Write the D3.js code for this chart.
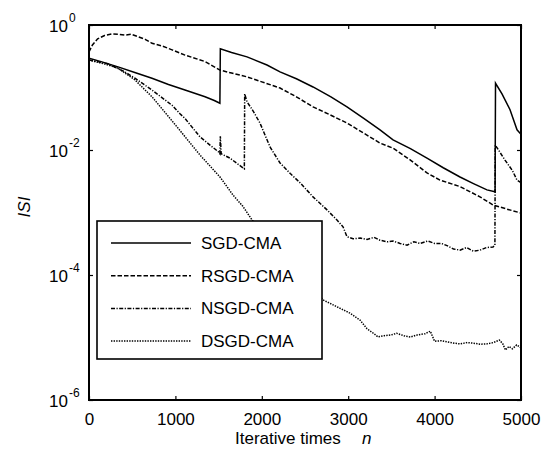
<!DOCTYPE html>
<html>
<head>
<meta charset="utf-8">
<script src="https://cdn.jsdelivr.net/npm/d3@7"></script>
<style>
  html, body { margin: 0; padding: 0; background: #fff; }
  svg text { font-family: "Liberation Sans", Arial, sans-serif; fill: #000; }
</style>
</head>
<body>
<div id="chart"></div>
<script>
// series: [iteration n, ISI]
const seriesNames = ['SGD-CMA', 'RSGD-CMA', 'NSGD-CMA', 'DSGD-CMA'];

const sgdData = [
  [0, 0.295], [150, 0.257], [336, 0.214], [530, 0.174], [729, 0.141], [920, 0.112],
  [1111, 0.091], [1343, 0.071], [1450, 0.062], [1515, 0.056], [1520, 0.417],
  [1650, 0.363], [1829, 0.309], [2060, 0.229], [2211, 0.178], [2400, 0.138],
  [2593, 0.102], [2800, 0.071], [2986, 0.049], [3180, 0.032], [3368, 0.021],
  [3519, 0.0145], [3720, 0.0105], [3912, 0.0074], [4100, 0.0052], [4294, 0.0037],
  [4450, 0.0029], [4606, 0.0023], [4700, 0.00214], [4705, 0.117], [4780, 0.079],
  [4873, 0.044], [4954, 0.021], [5000, 0.0178]
];

const rsgdData = [
  [0, 0.37], [40, 0.48], [100, 0.60], [180, 0.68], [266, 0.72], [340, 0.71],
  [417, 0.69], [490, 0.71], [567, 0.65], [650, 0.59], [729, 0.51], [850, 0.46],
  [961, 0.40], [1111, 0.33], [1343, 0.26], [1516, 0.19], [1650, 0.17], [1829, 0.148],
  [2000, 0.123], [2211, 0.098], [2400, 0.071], [2593, 0.049], [2800, 0.036],
  [2986, 0.027], [3180, 0.0186], [3368, 0.0129], [3519, 0.0107], [3720, 0.0069],
  [3912, 0.0043], [4062, 0.0033], [4294, 0.0026], [4525, 0.00178], [4676, 0.00132],
  [4850, 0.00112], [5000, 0.00098]
];

const nsgdData = [
  [0, 0.275], [220, 0.24], [400, 0.182], [532, 0.141], [729, 0.091], [961, 0.052],
  [1053, 0.038], [1111, 0.032], [1285, 0.0162], [1400, 0.012], [1500, 0.0093],
  [1515, 0.0087], [1520, 0.0166], [1530, 0.0087], [1632, 0.0074], [1720, 0.0060],
  [1798, 0.0050], [1802, 0.079], [1829, 0.059], [1900, 0.042], [1979, 0.027],
  [2095, 0.0112], [2211, 0.0062], [2330, 0.0042], [2442, 0.0030], [2593, 0.00178],
  [2755, 0.0011], [2870, 7.6e-4], [2940, 5.9e-4], [2986, 4.1e-4], [3056, 3.8e-4],
  [3140, 3.9e-4], [3218, 3.7e-4], [3300, 4.0e-4], [3368, 3.6e-4], [3450, 3.4e-4],
  [3519, 3.5e-4], [3600, 3.2e-4], [3681, 3.0e-4], [3760, 3.4e-4], [3831, 3.2e-4],
  [3920, 3.5e-4], [4000, 3.2e-4], [4080, 3.2e-4], [4144, 2.95e-4], [4220, 2.6e-4],
  [4294, 2.5e-4], [4370, 2.75e-4], [4450, 2.4e-4], [4525, 2.5e-4], [4600, 2.75e-4],
  [4676, 2.8e-4], [4698, 3.0e-4], [4702, 0.012], [4815, 0.0069], [4900, 0.0047],
  [4954, 0.0033], [5000, 0.0030]
];

const dsgdData = [
  [0, 0.275], [200, 0.234], [336, 0.204], [532, 0.132], [729, 0.071], [914, 0.035],
  [1053, 0.0205], [1285, 0.0083], [1516, 0.0037], [1667, 0.0019], [1780, 0.00126],
  [1887, 7.6e-4], [2000, 5.0e-4], [2200, 2.5e-4], [2400, 1.2e-4], [2550, 7.1e-5],
  [2708, 4.0e-5], [2870, 3.1e-5], [3021, 2.45e-5], [3137, 1.9e-5], [3218, 1.38e-5],
  [3299, 1.15e-5], [3345, 1.02e-5], [3420, 1.07e-5], [3500, 1.1e-5], [3560, 1.17e-5],
  [3600, 1.12e-5], [3660, 1.05e-5], [3720, 1.02e-5], [3800, 1.1e-5], [3890, 1.15e-5],
  [3950, 1.26e-5], [4000, 8.7e-6], [4080, 8.9e-6], [4150, 8.5e-6], [4230, 8.1e-6],
  [4300, 7.9e-6], [4380, 8.3e-6], [4450, 8.1e-6], [4530, 7.8e-6], [4600, 7.9e-6],
  [4680, 8.3e-6], [4750, 9.1e-6], [4790, 7.9e-6], [4820, 6.3e-6], [4860, 7.2e-6],
  [4900, 6.6e-6], [4950, 7.6e-6], [5000, 6.8e-6]
];

const xTicks = [0, 1000, 2000, 3000, 4000, 5000];
const yTickExps = [0, -2, -4, -6];

document.addEventListener('DOMContentLoaded', () => {
  const W = 549, H = 455;
  const m = { left: 89, top: 25, right: 521, bottom: 400 };

  const svg = d3.select('#chart').append('svg')
    .attr('width', W).attr('height', H);

  const x = d3.scaleLinear().domain([0, 5000]).range([m.left, m.right]);
  const y = d3.scaleLog().domain([1e-6, 1]).range([m.bottom, m.top]);
  const yTicks = yTickExps.map(e => Math.pow(10, e));

  svg.append('clipPath').attr('id', 'plot-clip')
    .append('rect')
    .attr('x', m.left).attr('y', m.top)
    .attr('width', m.right - m.left).attr('height', m.bottom - m.top);

  // curves
  const styles = [
    { data: sgdData, dash: null },
    { data: rsgdData, dash: '4.5,2' },
    { data: nsgdData, dash: '4,1.5,1.2,1.5' },
    { data: dsgdData, dash: '1.4,1.2' }
  ];

  const line = d3.line().x(d => x(d[0])).y(d => y(d[1]));

  const curves = svg.append('g').attr('clip-path', 'url(#plot-clip)');
  styles.forEach(s => {
    curves.append('path')
      .datum(s.data)
      .attr('d', line)
      .attr('fill', 'none')
      .attr('stroke', '#000')
      .attr('stroke-width', 1.5)
      .attr('stroke-dasharray', s.dash);
  });

  // inward ticks on all four sides
  const tickStyle = g => {
    g.select('.domain').remove();
    g.selectAll('.tick line').attr('stroke', '#000').attr('stroke-width', 1.2);
  };

  svg.append('g').attr('transform', `translate(0,${m.bottom})`)
    .call(d3.axisBottom(x).tickValues(xTicks).tickFormat(d3.format('d'))
      .tickSizeInner(-4).tickSizeOuter(0))
    .call(tickStyle)
    .call(g => g.selectAll('.tick text')
      .attr('font-size', 17)
      .attr('font-family', '"Liberation Sans", Arial, sans-serif')
      .attr('y', 25).attr('dy', 0));

  svg.append('g').attr('transform', `translate(0,${m.top})`)
    .call(d3.axisTop(x).tickValues(xTicks).tickSizeInner(-4).tickSizeOuter(0).tickFormat(''))
    .call(tickStyle);

  svg.append('g').attr('transform', `translate(${m.left},0)`)
    .call(d3.axisLeft(y).tickValues(yTicks).tickSizeInner(-4).tickSizeOuter(0).tickFormat(''))
    .call(tickStyle);

  svg.append('g').attr('transform', `translate(${m.right},0)`)
    .call(d3.axisRight(y).tickValues(yTicks).tickSizeInner(-4).tickSizeOuter(0).tickFormat(''))
    .call(tickStyle);

  // y tick labels as 10 with superscript exponent
  const yLab = svg.append('g').selectAll('g').data(yTickExps).enter().append('g');
  yLab.append('text')
    .attr('x', 68).attr('y', e => y(Math.pow(10, e)) + 7)
    .attr('text-anchor', 'end').attr('font-size', 17)
    .text('10');
  yLab.append('text')
    .attr('x', 69).attr('y', e => y(Math.pow(10, e)) - 3)
    .attr('font-size', 12)
    .text(e => e === 0 ? '0' : '-' + Math.abs(e));

  // frame
  svg.append('rect')
    .attr('x', m.left).attr('y', m.top)
    .attr('width', m.right - m.left).attr('height', m.bottom - m.top)
    .attr('fill', 'none').attr('stroke', '#000').attr('stroke-width', 2);

  // axis labels
  const xl = svg.append('text').attr('x', 235).attr('y', 444).attr('font-size', 17);
  xl.append('tspan').text('Iterative times');
  xl.append('tspan').attr('x', 362).attr('font-style', 'italic').text('n');

  svg.append('text')
    .attr('transform', 'translate(30,207) rotate(-90)')
    .attr('text-anchor', 'middle').attr('font-size', 17).attr('font-style', 'italic')
    .text('ISI');

  // legend
  const lg = svg.append('g');
  lg.append('rect')
    .attr('x', 97).attr('y', 221).attr('width', 225).attr('height', 138)
    .attr('fill', '#fff').attr('stroke', '#000').attr('stroke-width', 1.6);

  seriesNames.forEach((name, i) => {
    const ry = 243 + i * 32.7;
    lg.append('line')
      .attr('x1', 111).attr('x2', 191).attr('y1', ry).attr('y2', ry)
      .attr('stroke', '#000').attr('stroke-width', 1.5)
      .attr('stroke-dasharray', styles[i].dash);
    lg.append('text')
      .attr('x', 201).attr('y', ry + 6).attr('font-size', 17)
      .text(name);
  });
});
</script>
</body>
</html>
